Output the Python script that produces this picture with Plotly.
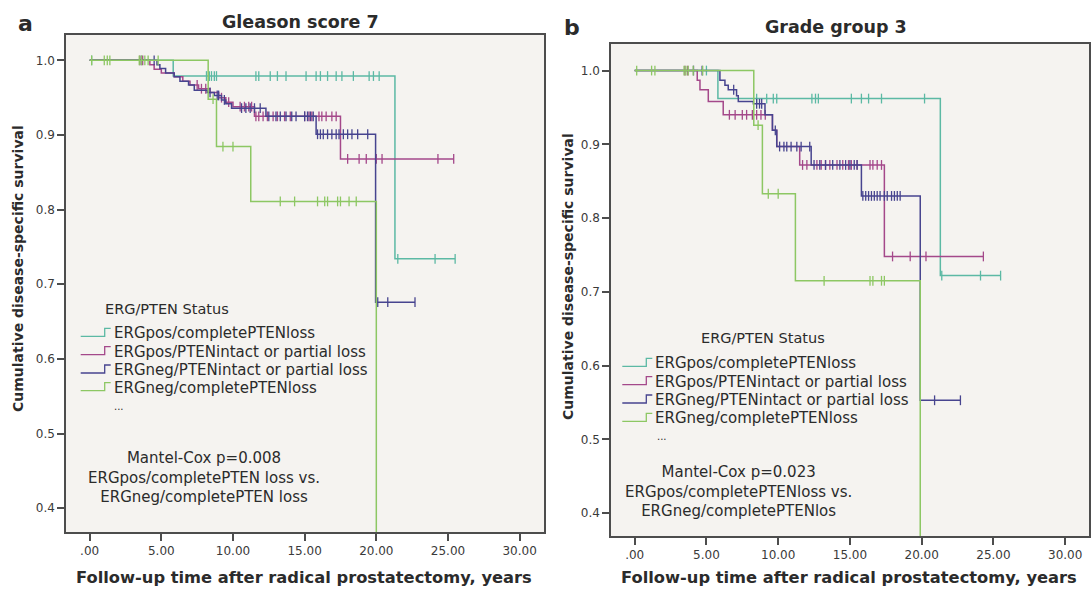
import numpy as np
import plotly.graph_objects as go

W, H = 1091, 590
FONT = "DejaVu Sans"
TXT = "#2b2b2b"

groups = ["ERGpos/completePTENloss", "ERGpos/PTENintact or partial loss",
          "ERGneg/PTENintact or partial loss", "ERGneg/completePTENloss"]
colors = ["#5cb9a4", "#a4488a", "#47448f", "#8dc763"]

x_tickvals = [0, 5, 10, 15, 20, 25, 30]
x_ticktext = [".00", "5.00", "10.00", "15.00", "20.00", "25.00", "30.00"]
y_tickvals = [0.4, 0.5, 0.6, 0.7, 0.8, 0.9, 1.0]
y_ticktext = ["0.4", "0.5", "0.6", "0.7", "0.8", "0.9", "1.0"]

# ---------- Panel a: Gleason score 7 ----------
a_teal_t = [0, 5.83, 21.3]
a_teal_s = [1.0, 0.979, 0.734]
a_teal_end = 25.5
a_teal_c = [0.14, 3.6, 8.15, 8.35, 8.5, 8.7, 8.85, 11.6, 11.8, 12.6, 13.1, 13.7, 15.1, 15.8,
            16.1, 16.6, 17.2, 17.6, 18.4, 19.5, 19.8, 20.2, 21.5, 24.1, 25.5]

a_purp_t = [0, 4.2, 4.5, 5.0, 5.9, 6.5, 7.0, 7.6, 8.4, 9.0, 9.5, 10.0, 11.5, 17.5]
a_purp_s = [1.0, 0.994, 0.988, 0.983, 0.978, 0.972, 0.967, 0.962, 0.957, 0.950, 0.944, 0.938, 0.925, 0.868]
a_purp_end = 25.4
a_purp_c = [3.5, 3.7, 7.5, 7.8, 8.1, 9.2, 9.7, 10.5, 10.8, 11.1, 11.3, 11.6, 11.8, 12.1, 12.4,
            12.8, 13.1, 13.6, 14.0, 15.0, 15.3, 15.5, 16.0, 16.2, 16.5, 16.9, 17.2, 18.0, 18.8,
            19.3, 20.0, 20.4, 24.3, 25.4]

a_navy_t = [0, 4.7, 4.9, 5.3, 5.9, 6.3, 6.9, 7.3, 8.2, 8.7, 9.2, 9.5, 9.9, 12.3, 15.8, 19.95]
a_navy_s = [1.0, 0.994, 0.989, 0.983, 0.978, 0.972, 0.967, 0.960, 0.957, 0.953, 0.947, 0.942,
            0.936, 0.925, 0.901, 0.676]
a_navy_end = 22.7
a_navy_c = [4.5, 8.4, 8.9, 9.0, 9.4, 10.6, 10.9, 11.2, 11.5, 11.9, 12.5, 13.0, 13.3, 13.7, 14.1,
            14.4, 15.0, 15.2, 15.4, 15.6, 15.9, 16.1, 16.3, 16.6, 16.9, 17.2, 17.4, 17.7, 18.0,
            18.3, 18.7, 19.4, 20.1, 20.8, 22.7]

a_gree_t = [0, 8.27, 8.85, 11.24, 20.0]
a_gree_s = [1.0, 0.948, 0.8845, 0.811, 0.0]
a_gree_end = 20.0
a_gree_c = [0.14, 1.02, 1.23, 1.41, 3.46, 3.62, 3.85, 4.08, 4.78, 8.61, 9.3, 10.0, 13.3, 14.3,
            15.9, 16.4, 16.6, 17.3, 17.5, 18.1, 18.6]

# ---------- Panel b: Grade group 3 ----------
b_teal_t = [0, 5.8, 21.3]
b_teal_s = [1.0, 0.962, 0.722]
b_teal_end = 25.5
b_teal_c = [5.0, 8.5, 9.2, 9.66, 9.9, 12.35, 12.6, 12.8, 15.1, 15.8, 16.3, 17.2, 20.2, 21.4,
            24.1, 25.5]

b_purp_t = [0, 4.36, 4.55, 5.13, 6.17, 9.6, 9.9, 11.5, 17.4]
b_purp_s = [1.0, 0.987, 0.974, 0.958, 0.940, 0.919, 0.897, 0.872, 0.748]
b_purp_end = 24.3
b_purp_c = [3.5, 3.7, 6.6, 7.0, 7.5, 7.8, 8.2, 8.5, 8.8, 9.1, 11.7, 12.0, 12.7, 13.0, 13.3,
            13.6, 14.1, 14.5, 14.9, 15.1, 15.5, 16.4, 16.6, 16.9, 17.2, 17.97, 19.2, 20.3, 24.3]

b_navy_t = [0, 5.94, 6.29, 6.52, 7.1, 7.22, 8.27, 9.08, 9.6, 9.9, 12.3, 15.8, 19.9]
b_navy_s = [1.0, 0.987, 0.980, 0.974, 0.966, 0.958, 0.955, 0.940, 0.919, 0.897, 0.872, 0.830, 0.553]
b_navy_end = 22.7
b_navy_c = [4.1, 4.7, 6.9, 8.5, 8.7, 8.85, 9.8, 10.1, 10.4, 10.6, 10.9, 11.3, 11.6, 12.2, 12.5,
            12.9, 13.3, 13.8, 14.3, 14.7, 15.0, 15.3, 15.5, 15.9, 16.1, 16.3, 16.5, 16.7, 16.9,
            17.1, 17.4, 17.6, 17.9, 18.1, 18.3, 18.5, 20.9, 22.7]

b_gree_t = [0, 8.3, 8.9, 11.2, 19.9]
b_gree_s = [1.0, 0.926, 0.833, 0.715, 0.0]
b_gree_end = 19.9
b_gree_c = [0.14, 1.18, 1.41, 3.44, 3.57, 3.73, 4.08, 4.74, 8.6, 9.31, 10.0, 13.2, 16.4, 16.6,
            17.2, 17.4]

panel_a = [(a_teal_t, a_teal_s, a_teal_end, a_teal_c),
           (a_purp_t, a_purp_s, a_purp_end, a_purp_c),
           (a_navy_t, a_navy_s, a_navy_end, a_navy_c),
           (a_gree_t, a_gree_s, a_gree_end, a_gree_c)]
panel_b = [(b_teal_t, b_teal_s, b_teal_end, b_teal_c),
           (b_purp_t, b_purp_s, b_purp_end, b_purp_c),
           (b_navy_t, b_navy_s, b_navy_end, b_navy_c),
           (b_gree_t, b_gree_s, b_gree_end, b_gree_c)]

fig = go.Figure()


def add_panel(panel, xa, ya):
    for (t, s, end, cens), col, name in zip(panel, colors, groups):
        t = np.asarray(t, float)
        s = np.asarray(s, float)
        xs = list(t) + ([end] if end > t[-1] else [])
        ys = list(s) + ([s[-1]] if end > t[-1] else [])
        fig.add_trace(go.Scatter(x=xs, y=ys, mode="lines", line=dict(shape="hv", color=col, width=1.5),
                                 name=name, showlegend=False, xaxis=xa, yaxis=ya, hoverinfo="skip"))
        c = np.asarray(cens, float)
        idx = np.searchsorted(t, c, side="right") - 1
        fig.add_trace(go.Scatter(x=c, y=s[idx], mode="markers",
                                 marker=dict(symbol="line-ns", size=7, color=col,
                                             line=dict(color=col, width=1.3)),
                                 name=name, showlegend=False, xaxis=xa, yaxis=ya, hoverinfo="skip"))


add_panel(panel_a, "x", "y")
add_panel(panel_b, "x2", "y2")


def px(x):
    return x / W


def py(y):
    return 1 - y / H


axis_common = dict(showline=True, linecolor="#4d4d4d", linewidth=1.5, mirror=True,
                   ticks="outside", ticklen=7, tickwidth=1.5, tickcolor="#4d4d4d",
                   showgrid=False, zeroline=False,
                   tickfont=dict(family=FONT, size=12, color="#3a3a3a"))

fig.update_layout(
    width=W, height=H, margin=dict(l=0, r=0, t=0, b=0), autosize=False,
    paper_bgcolor="white", plot_bgcolor="#f5f3f0", showlegend=False,
    font=dict(family=FONT, color=TXT),
    xaxis=dict(domain=[px(66), px(544)], range=[-1.65, 31.7], anchor="y",
               tickvals=x_tickvals, ticktext=x_ticktext, **axis_common),
    yaxis=dict(domain=[py(532), py(35)], range=[0.368, 1.034], anchor="x",
               tickvals=y_tickvals, ticktext=y_ticktext, **axis_common),
    xaxis2=dict(domain=[px(611), px(1089)], range=[-1.65, 31.66], anchor="y2",
                tickvals=x_tickvals, ticktext=x_ticktext, **axis_common),
    yaxis2=dict(domain=[py(536), py(44)], range=[0.369, 1.036], anchor="x2",
                tickvals=y_tickvals, ticktext=y_ticktext, **axis_common),
)

ann = []


def text(x, y, s, size=14, bold=False, xanchor="center", angle=0):
    ann.append(dict(x=px(x), y=py(y), xref="paper", yref="paper", text=(f"<b>{s}</b>" if bold else s),
                    showarrow=False, xanchor=xanchor, yanchor="middle", textangle=angle,
                    font=dict(family=FONT, size=size, color=TXT)))


shapes = []


def icon(x0, yc, col):
    # small step glyph used as legend key
    path = (f"M {px(x0)},{py(yc + 3)} L {px(x0 + 24)},{py(yc + 3)} "
            f"L {px(x0 + 24)},{py(yc - 5)} L {px(x0 + 30)},{py(yc - 5)}")
    shapes.append(dict(type="path", path=path, xref="paper", yref="paper",
                       line=dict(color=col, width=1.3)))


# panel labels and titles
text(25, 23, "a", size=22, bold=True)
text(572, 27, "b", size=22, bold=True)
text(300, 22, "Gleason score 7", size=17.5, bold=True)
text(836, 27, "Grade group 3", size=17.5, bold=True)

# axis titles
text(18, 269, "Cumulative disease-specific survival", size=14, bold=True, angle=-90)
text(568, 277, "Cumulative disease-specific survival", size=14, bold=True, angle=-90)
text(304, 577, "Follow-up time after radical prostatectomy, years", size=16.3, bold=True)
text(849, 577, "Follow-up time after radical prostatectomy, years", size=16.3, bold=True)

# legends
legend_specs = [
    dict(title=(167, 309), tx=111.7, ys=[333.3, 351.7, 370, 387.7], dots=(112, 406),
         mantel=(204, 477.5),
         mtext=["Mantel-Cox p=0.008", "ERGpos/completePTEN loss vs.", "ERGneg/completePTEN loss"]),
    dict(title=(763, 338), tx=653.3, ys=[363.3, 381.7, 400, 418.3], dots=(655, 436),
         mantel=(738, 491),
         mtext=["Mantel-Cox p=0.023", "ERGpos/completePTENloss vs.", "ERGneg/completePTENlos"]),
]
for spec in legend_specs:
    text(spec["title"][0], spec["title"][1], "ERG/PTEN Status", size=14.5)
    for yv, g, col in zip(spec["ys"], groups, colors):
        text(spec["tx"], yv, g, size=15, xanchor="left")
        icon(spec["tx"] - 31, yv, col)
    text(spec["dots"][0], spec["dots"][1], "...", size=10, xanchor="left")
    mx, my = spec["mantel"]
    text(mx, my, "<br>".join(spec["mtext"]), size=15)

fig.update_layout(annotations=ann, shapes=shapes)
fig.write_html("out.html")
